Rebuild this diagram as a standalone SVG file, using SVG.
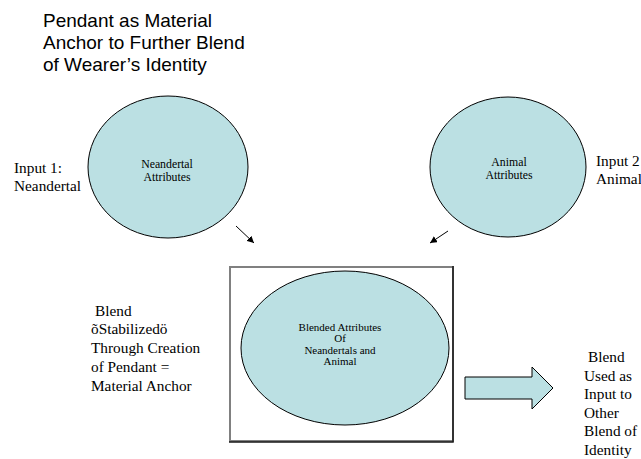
<svg xmlns="http://www.w3.org/2000/svg" width="641" height="459" viewBox="0 0 641 459">
  <style>
    .title { font-family: "Liberation Sans", Arial, sans-serif; font-size: 19px; fill: #000; }
    .label { font-family: "Liberation Serif", "Times New Roman", serif; font-size: 15.3px; fill: #000; }
    .inner { font-family: "Liberation Serif", "Times New Roman", serif; font-size: 11.8px; fill: #000; text-anchor: middle; }
    .inner-sm { font-size: 11px; }
    .bubble { fill: #BBE0E3; stroke: #000; stroke-width: 1; }
    .link { stroke: #000; stroke-width: 1; fill: none; marker-end: url(#head); }
  </style>
  <defs>
    <marker id="head" viewBox="0 0 10 10" refX="10" refY="5" markerWidth="7" markerHeight="7" markerUnits="userSpaceOnUse" orient="auto">
      <path d="M0,0 L10,5 L0,10 z" fill="#000"/>
    </marker>
  </defs>
  <rect width="641" height="459" fill="#fff"/>

  <g id="title">
    <text class="title" x="43" y="27">Pendant as Material</text>
    <text class="title" x="43" y="49">Anchor to Further Blend</text>
    <text class="title" x="43" y="71">of Wearer’s Identity</text>
  </g>

  <g id="input1-label">
    <text class="label" x="14" y="173">Input 1:</text>
    <text class="label" x="14" y="191">Neandertal</text>
  </g>

  <g id="input2-label">
    <text class="label" x="596" y="166">Input 2</text>
    <text class="label" x="596" y="184">Animal</text>
  </g>

  <g id="neandertal">
    <ellipse class="bubble" cx="168" cy="167" rx="80" ry="71"/>
    <text class="inner" x="167" y="168">Neandertal</text>
    <text class="inner" x="167" y="181">Attributes</text>
  </g>

  <g id="animal">
    <ellipse class="bubble" cx="508" cy="167" rx="78" ry="70"/>
    <text class="inner" x="509" y="166">Animal</text>
    <text class="inner" x="509" y="179">Attributes</text>
  </g>

  <g id="blend">
    <rect x="230" y="267" width="223" height="174" fill="none" stroke="#808080" stroke-width="2"/>
    <path d="M453,266 V442 H229" fill="none" stroke="#1a1a1a" stroke-width="1.5"/>
    <ellipse class="bubble" cx="345" cy="348" rx="104" ry="77"/>
    <text class="inner inner-sm" x="340" y="330.5">Blended Attributes</text>
    <text class="inner inner-sm" x="340" y="342">Of</text>
    <text class="inner inner-sm" x="340" y="353.5">Neandertals and</text>
    <text class="inner inner-sm" x="340" y="365">Animal</text>
  </g>

  <g id="anchor-label">
    <text class="label" x="95" y="316">Blend</text>
    <text class="label" x="91" y="334">õStabilizedö</text>
    <text class="label" x="91" y="353">Through Creation</text>
    <text class="label" x="91" y="372">of Pendant =</text>
    <text class="label" x="91" y="391">Material Anchor</text>
  </g>

  <g id="output-label">
    <text class="label" x="588" y="362">Blend</text>
    <text class="label" x="584" y="380.5">Used as</text>
    <text class="label" x="584" y="399">Input to</text>
    <text class="label" x="584" y="417.5">Other</text>
    <text class="label" x="584" y="436">Blend of</text>
    <text class="label" x="584" y="454.5">Identity</text>
  </g>

  <g id="connectors">
    <line class="link" x1="236" y1="226" x2="254" y2="243"/>
    <line class="link" x1="448" y1="231" x2="430" y2="243"/>
    <path class="bubble" d="M465,377 H532 V367 L553,388 L532,409 V399 H465 Z"/>
  </g>
</svg>
